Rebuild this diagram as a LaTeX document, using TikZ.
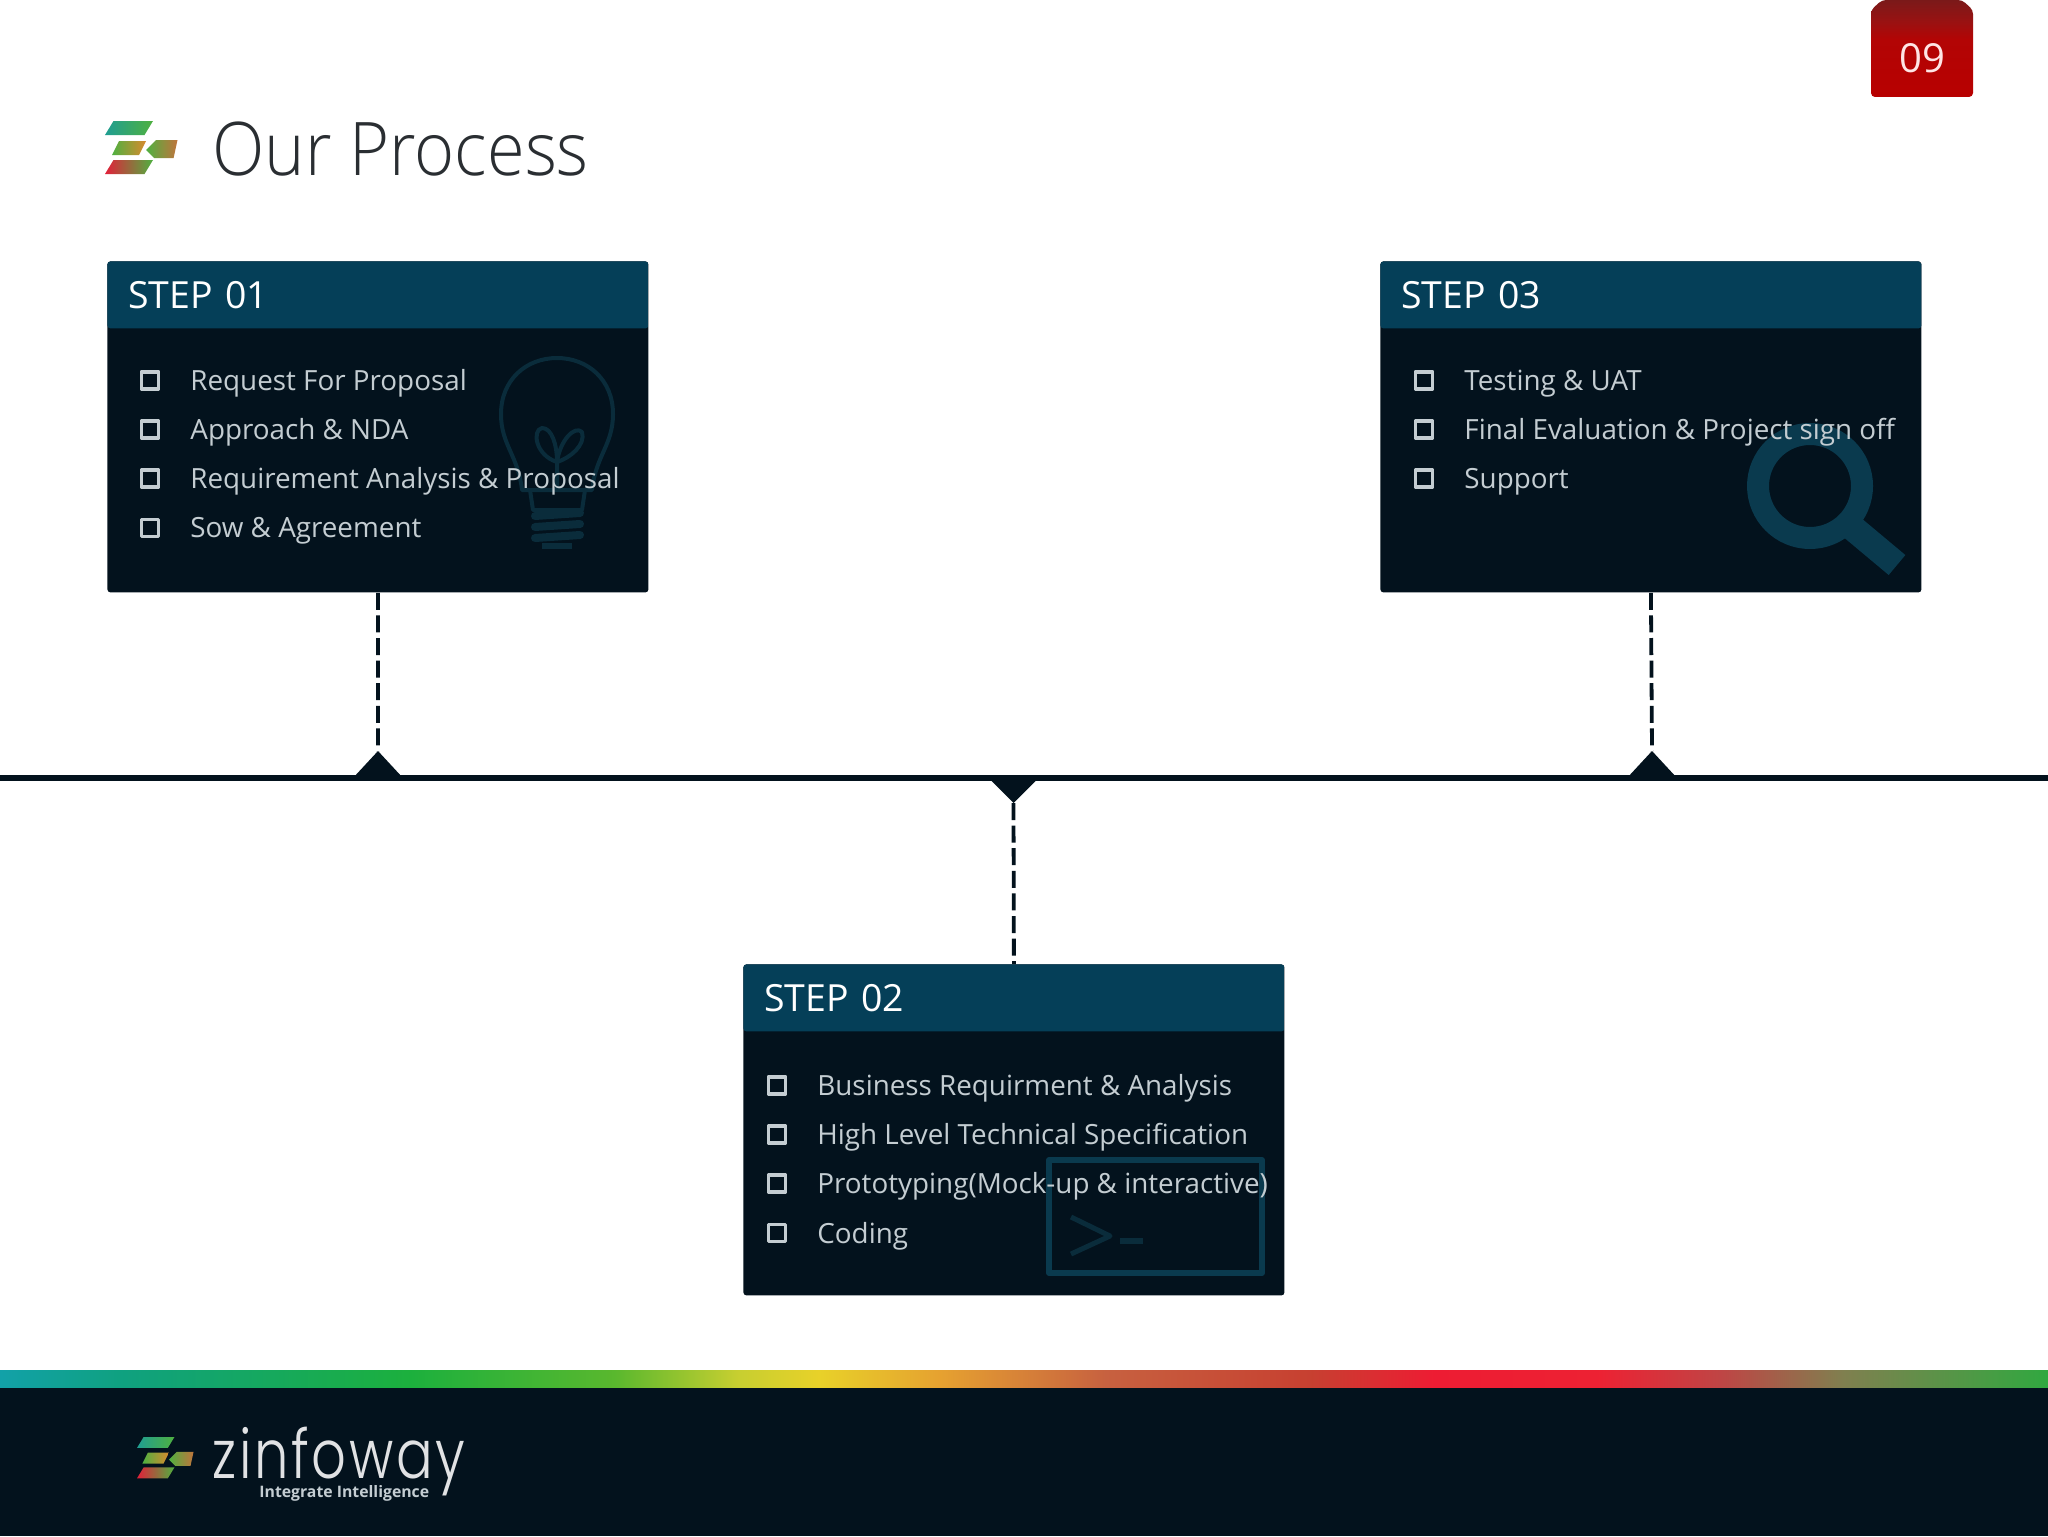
\documentclass[tikz,border=0pt]{standalone}
\usepackage{fontspec}
\usetikzlibrary{positioning}
\setmainfont{Open Sans}
\newfontfamily\titlefont[UprightFont={* Light},FakeStretch=.925]{Open Sans}
\newfontfamily\brandfont[UprightFont={* Light},LetterSpace=4,FakeStretch=.8]{Poppins}
\definecolor{navy}{HTML}{03121D}
\definecolor{headblue}{HTML}{053F58}
\definecolor{iconblue}{HTML}{0A3A4E}
\definecolor{bulbblue}{HTML}{0A2C3B}
\definecolor{itemgrey}{HTML}{C4CDD2}
\definecolor{titlegrey}{HTML}{2A2E32}
\definecolor{logoteal}{HTML}{1F9E92}
\definecolor{logogreen}{HTML}{4FB040}
\definecolor{logoyellow}{HTML}{D2B62E}
\definecolor{logoorange}{HTML}{D88A2E}
\definecolor{logobrown}{HTML}{C0743C}
\definecolor{logored}{HTML}{E2203A}
\pgfdeclarehorizontalshading{rainbow}{100bp}{rgb(0bp)=(0.07,0.63,0.66);rgb(25bp)=(0.07,0.63,0.66);rgb(28bp)=(0.06,0.63,0.5);rgb(35bp)=(0.11,0.69,0.24);rgb(40bp)=(0.35,0.72,0.18);rgb(43bp)=(0.78,0.81,0.19);rgb(45bp)=(0.91,0.82,0.16);rgb(48bp)=(0.90,0.63,0.19);rgb(52bp)=(0.78,0.38,0.25);rgb(57bp)=(0.78,0.25,0.19);rgb(60bp)=(0.93,0.11,0.2);rgb(64bp)=(0.93,0.13,0.2);rgb(67bp)=(0.75,0.27,0.27);rgb(70bp)=(0.5,0.5,0.31);rgb(75bp)=(0.19,0.66,0.25);rgb(100bp)=(0.19,0.66,0.25)}
\pgfdeclareverticalshading{tabred}{100bp}{rgb(0bp)=(0.72,0,0);rgb(25bp)=(0.72,0,0);rgb(55bp)=(0.70,0.02,0.02);rgb(64bp)=(0.6,0.07,0.07);rgb(75bp)=(0.48,0.1,0.1);rgb(100bp)=(0.48,0.1,0.1)}
\tikzset{
 stepbody/.style={fill=navy,rounded corners=1.5pt,inner sep=0pt,minimum width=270.5pt,minimum height=165.5pt,anchor=north west,
  path picture={\fill[headblue] (path picture bounding box.north west) rectangle ++(270.5pt,-33.5pt);}},
 stephead/.style={inner ysep=0pt,inner xsep=10.5pt,minimum height=33.5pt,text width=249.5pt,anchor=north west,text=white,font=\fontsize{18.7}{18.7}\selectfont},
 itemmark/.style={draw=itemgrey,line width=1.8pt,inner sep=0pt,minimum size=8.5pt},
 itemtext/.style={text=itemgrey,inner sep=0pt,anchor=west,font=\fontsize{13.9}{13.9}\selectfont},
 tieline/.style={line width=1.9pt,navy,dash pattern=on 8.5pt off 2.8pt},
 logomark/.pic={
  \shade[left color=logoteal,right color=logogreen] (0,14)--(8.5,0)--(48,0)--(39.5,14)--cycle;
  \shade[left color=logogreen,middle color=logoyellow,right color=logoorange] (7,34)--(14,20)--(41,20)--(34,34)--cycle;
  \shade[left color=logogreen,right color=logobrown] (41,29)--(51,19)--(72.5,19)--(68.6,37)--(49,37)--cycle;
  \shade[left color=logored,right color=logogreen] (0,53)--(8.5,39)--(48,39)--(39.5,53)--cycle;
 }
}
\begin{document}
\begin{tikzpicture}[x=.5pt,y=-.5pt,line join=round]
\useasboundingbox (0,0) rectangle (2048,1536);
\fill[white] (0,0) rectangle (2048,1536);
% page tab
\shade[shading=tabred,rounded corners=2pt] (1871,97)--(1871,10)--(1882,0)--(1962,0)--(1973,10)--(1973,97)--cycle;
\node[text=white!90!red,inner sep=0pt,font=\fontsize{20}{20}\selectfont] (pageno) at (1922,58) {09};
% title
\pic at (105,121) {logomark};
\node[anchor=west,inner sep=0pt,text=titlegrey,font=\fontsize{37}{37}\titlefont] (title) at (212,149) {Our Process};
% timeline
\coordinate (lineL) at (0,778);
\coordinate (lineR) at (2048,778);
\coordinate (apex1) at (378,751);
\coordinate (apex2) at (1013.5,803);
\coordinate (apex3) at (1652,751);
\draw[navy,line width=3pt] (lineL)--(lineR);
\fill[navy] (apex1)--++(-25,27)--++(50,0)--cycle;
\fill[navy] (apex2)--++(-25,-25)--++(50,0)--cycle;
\fill[navy] (apex3)--++(-25,27)--++(50,0)--cycle;
% step 01
\node[stepbody] (body1) at (107,261) {};
\node[stephead] (head1) at (body1.north west) {STEP 01};
\draw[bulbblue,line width=2pt] (522,490) .. controls (518,455) and (501,445) .. (501,414) .. controls (501,380) and (526,358) .. (557,358) .. controls (588,358) and (613,380) .. (613,414) .. controls (613,445) and (596,455) .. (592,490) -- cycle;
\draw[bulbblue,line width=2pt] (557,490) -- (557,462) .. controls (535,455) and (532,430) .. (542,428) .. controls (552,428) and (557,445) .. (557,462) .. controls (560,440) and (575,425) .. (582,432) .. controls (586,445) and (570,458) .. (557,462);
\draw[bulbblue,line width=2pt] (530,490) -- (533,510) -- (582,510) -- (585,490);
\foreach \yy in {516,527,538}
 \draw[bulbblue,line width=4pt,line cap=round] (535,\yy) -- (580,\yy-3);
\fill[bulbblue] (542,543) rectangle (572,549);
\foreach \txt [count=\i] in {Request For Proposal,Approach \& NDA,Requirement Analysis \& Proposal,Sow \& Agreement}{
 \node[itemmark] (markA\i) at (150,331+\i*49.2) {};
 \node[itemtext] (itemA\i) at (190,334+\i*49.2) {\txt};
}
% step 02
\node[stepbody] (body2) at (743,964) {};
\node[stephead] (head2) at (body2.north west) {STEP 02};
\draw[iconblue,line width=3pt] (1049,1160) rectangle (1262,1273);
\draw[bulbblue,line width=2.5pt] (1071,1217) -- (1110,1236) -- (1071,1254);
\draw[bulbblue,line width=3pt] (1120,1241) -- (1143,1241);
\foreach \txt [count=\i] in {Business Requirment \& Analysis,High Level Technical Specification,Prototyping(Mock-up \& interactive),Coding}{
 \node[itemmark] (markB\i) at (777,1036+\i*49.2) {};
 \node[itemtext] (itemB\i) at (817,1039+\i*49.2) {\txt};
}
% step 03
\node[stepbody] (body3) at (1380,261) {};
\node[stephead] (head3) at (body3.north west) {STEP 03};
\draw[iconblue,line width=11pt] (1810,486) circle (52);
\draw[iconblue,line width=13pt] (1848,524) -- (1897,565);
\foreach \txt [count=\i] in {Testing \& UAT,Final Evaluation \& Project sign off,Support}{
 \node[itemmark] (markC\i) at (1424,331+\i*49.2) {};
 \node[itemtext] (itemC\i) at (1464,334+\i*49.2) {\txt};
}
% dashed ties
\draw[tieline] (body1.south)--(apex1);
\draw[tieline] (body3.south)--(apex3);
\draw[tieline] (apex2)--(body2.north);
% footer
\fill[navy] (0,1387) rectangle (2048,1536);
\shade[shading=rainbow] (0,1370) rectangle (2048,1387);
\pic[scale=.78] at (137,1437) {logomark};
\node[anchor=base west,inner sep=0pt,text=white!88!navy,font=\fontsize{34}{34}\brandfont] (brand) at (212,1478) {zinfoway};
\node[anchor=base west,inner sep=0pt,text=itemgrey,font=\fontsize{7.9}{7.9}\bfseries] (slogan) at (259,1497) {Integrate Intelligence};
\end{tikzpicture}
\end{document}
